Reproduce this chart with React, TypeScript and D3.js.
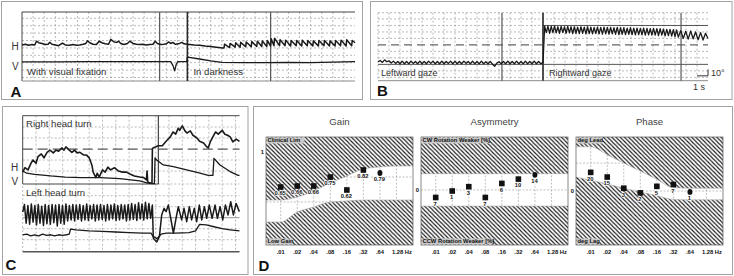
import React, { useLayoutEffect } from "react";
import * as d3 from "d3";

type P = [number, number];

// ================= Panel A : spontaneous nystagmus =================
const A_H_FIXATION: P[] = [
  [0, 4], [0.3, 5], [0.6, 3.5], [0.9, 4.5], [1.15, 4], [1.3, 9], [1.5, 7], [1.8, 6], [2.1, 4.5], [2.35, 5],
  [2.5, 7.5], [2.7, 5], [3.0, 4], [3.3, 3], [3.5, 5], [3.65, 6.5], [3.9, 4], [4.3, 3.5], [4.6, 4.5], [4.9, 3.5],
  [5.2, 4], [5.5, 5], [5.75, 6], [5.9, 9.5], [6.1, 7], [6.4, 5], [6.7, 4.5], [6.95, 9], [7.2, 7], [7.5, 5.5],
  [7.8, 5], [8.0, 11.5], [8.3, 8], [8.55, 7.5], [8.7, 9], [8.9, 6], [9.2, 4.5], [9.5, 6], [9.7, 9], [10, 6],
  [10.3, 5], [10.6, 4.5], [10.9, 5], [11.2, 4], [11.5, 4.5], [11.8, 5], [12.0, 9], [12.2, 6], [12.5, 4.5], [12.8, 5],
  [13.0, 5.5], [13.2, 8], [13.4, 6], [13.6, 7.5], [13.8, 5], [14.1, 5.5], [14.4, 7.5], [14.6, 5.5], [14.9, 5],
];
const A_H_DARK_ONSET: P[] = [[15.5, 4], [16, 3.5], [16.5, 2.5], [17, 2], [17.5, 1], [18.1, 0]];
// [time of fast phase, trough, peak]
const A_H_DARK_BEATS: [number, number, number][] = [
  [18.25, 0, 5], [18.75, 0.5, 6], [19.25, 1, 7], [19.7, 1, 7.5], [20.2, 1.5, 8], [20.7, 1.5, 8.5],
  [21.2, 2, 9], [21.65, 2, 9.5], [22.1, 2, 10], [22.45, 2.5, 12.5], [22.75, 3, 13], [23.25, 3, 11],
  [23.75, 3, 10.5], [24.25, 2.5, 10], [24.75, 3, 10], [25.25, 2.5, 10.5], [25.75, 3, 10], [26.25, 2.5, 9.5],
  [26.75, 2.5, 10], [27.25, 3, 10], [27.75, 2.5, 9.5], [28.25, 2.5, 10], [28.75, 3, 10.5], [29.25, 2.5, 11],
  [29.75, 3, 10],
];
const A_H_DARK_END: P = [30, 7];
const A_V: P[] = [
  [0, -19], [3, -19], [6, -18.5], [9, -18.5], [12, -18.5], [13.4, -18.5], [13.6, -24], [13.75, -31], [13.9, -22],
  [14.05, -18.5], [14.85, -18.5], [14.9, -12.5], [16, -15], [17, -17.5], [18, -19.5], [20, -20], [22, -20],
  [24, -19.5], [26, -19.8], [28, -19.2], [30, -18.5],
];
const A_SEGMENTS = [12.4, 14.9, 22.4];
const A_TEXT = ["With visual fixation", "In darkness"];

// ================= Panel B : gaze-evoked nystagmus =================
const B_LEFT_STEP = 0.2;
const B_LEFT = [
  -26, -24, -27, -23, -26, -24.5, -28, -25, -28.5, -25.5,
  -29, -25, -29, -25.5, -29, -25, -28.5, -25.5, -29, -25,
  -29, -25.5, -29, -25, -28.5, -25, -29, -25.5, -29, -25,
  -29, -25.5, -28.5, -25, -29, -25, -29, -25.5, -29, -25,
  -28.5, -25.5, -29, -25, -29, -25.5, -29, -25, -29, -26,
  -29, -25.5, -29.5, -33, -28, -26, -29, -25.5, -29, -25,
  -29, -25.5, -29, -25, -29, -25.5, -29, -25, -29, -25.5,
  -29, -25, -29, -25.5, -29, -27,
];
const B_RIGHT_START = 15;
const B_RIGHT_STEP = 0.15;
const B_RIGHT = [
  -28, 29, 19, 29, 18, 28.5, 19, 29, 18.5, 28,
  18, 28.5, 19, 28, 18, 28.5, 18.5, 28, 17.5, 28,
  18, 27.5, 17.5, 28, 18, 27.5, 17, 28, 17.5, 27.5,
  17, 27, 17.5, 27.5, 17, 27, 16.5, 27.5, 17, 27,
  16.5, 27, 17, 26.5, 16.5, 27, 16, 26.5, 16.5, 26.5,
  16, 26, 16.5, 26.5, 16, 26, 15.5, 26, 16, 25.5,
  15.5, 26, 15, 25.5, 15.5, 25, 15, 25.5, 15, 25,
  14.5, 25, 15, 24.5, 14, 24, 14.5, 24, 13.5, 23.5,
  13, 23, 12,
];
const B_END_START = 27.3;
const B_END_STEP = 0.225;
const B_END = [12, 22, 10, 21, 9, 21.5, 9.5, 20, 8, 19, 7.5, 18, 10];
const B_SEGMENTS = [11.27, 15, 27.55];
const B_TARGET = 30;
const B_TEXT = ["Leftward gaze", "Rightward gaze"];

// ================= Panel C : head-turn nystagmus =================
const C_UP_H: P[] = [
  [0, -21], [0.17, -17], [0.4, -19], [0.62, -13], [0.77, -10], [1, -13], [1.15, -7], [1.4, -4.5], [1.6, -8],
  [1.83, -3], [2.05, -1], [2.3, -3.5], [2.5, -1], [2.7, -2], [2.95, 1], [3.1, -1], [3.25, 2], [3.5, -1],
  [3.7, -3], [3.9, -1], [4.1, -3.5], [4.3, -3], [4.6, -5.5], [4.8, -5.5], [5, -8], [5.2, -14.5], [5.3, -21],
  [5.5, -26], [5.6, -22], [5.75, -25.5], [6, -19], [6.2, -21], [6.4, -16.5], [6.6, -19], [6.9, -17],
  [7.2, -20], [7.5, -21], [7.8, -21], [8.1, -23], [8.4, -24.5], [8.8, -25.5], [9.1, -26], [9.3, -28],
  [9.35, -20], [9.4, -30], [9.6, -31], [9.72, -31], [9.75, 0], [9.8, 1], [10.2, 3], [10.5, 3], [10.7, 6],
  [10.85, 8], [11.1, 11], [11.3, 15.5], [11.5, 13.5], [11.7, 19], [11.8, 17], [12, 21], [12.2, 16.5],
  [12.35, 14.5], [12.6, 16.5], [12.8, 12.5], [13.1, 10], [13.3, 7], [13.6, 5.5], [13.8, 2.5], [13.95, 1],
  [14.1, 6.5], [14.3, 11], [14.5, 15.5], [14.7, 13.5], [15, 17], [15.2, 13.5], [15.4, 12.5], [15.6, 11],
  [15.8, 6.5], [16.05, 9], [16.3, 7],
];
const C_UP_V: P[] = [
  [0, -20], [0.3, -22], [0.9, -23], [2.1, -24.5], [3.2, -25.5], [4.4, -26], [5.1, -26], [5.8, -26],
  [7.3, -27], [8.8, -29], [9.4, -31], [9.7, -31.5], [9.9, -31.5], [9.95, -8], [10.07, -10], [10.57, -14.5],
  [11.32, -16], [12.33, -19], [13.33, -22], [13.95, -24], [14.3, -24], [14.38, -8.5], [14.83, -14.5],
  [15.59, -20.5], [16.2, -24], [16.3, -24],
];
const C_LOW_H_STEP = 0.13;
const C_LOW_H_FAST = [
  5, 12, -5, 11, -6, 12.5, -4, 11, -6.5, 12,
  -5, 10.5, -7, 12, -5.5, 11, -6, 12, -4.5, 11.5,
  -7.5, 12, -5, 11, -6, 12.5, -3, 11, -2, 12,
  -3, 11.5, -1.5, 12, -3, 11, -2, 12.5, -2.5, 11,
  -1, 12, -3, 11.5, -2, 12, -1.5, 11, -3, 12,
  -2, 11.5, -1, 12.5, -2.5, 11, -2, 12, -1, 11.5,
  -3, 12, -2, 13, -1.5, 12, -2.5, 13.5, -1, 12.5,
  -2, 14, -1, 13, -0.5, 11.5,
];
const C_LOW_H_LATE: P[] = [
  [9.82, -18.7], [10.08, -22], [10.28, -17], [10.45, 2.5], [10.63, 8.5], [10.78, 5.5], [10.95, 11.5],
  [11.13, -0.5], [11.33, -14], [11.53, -0.5], [11.7, 10], [11.95, -2], [12.13, 8.5], [12.33, -3.6],
  [12.53, 10], [12.7, -2], [12.9, 8.5], [13.08, -3.6], [13.28, 11.5], [13.46, -2], [13.66, 10], [13.83, -0.5],
  [14.03, 11.5], [14.24, -0.5], [14.46, 11.5], [14.64, -0.5], [14.84, 10], [15.04, -2], [15.24, 11.5],
  [15.44, 2.5], [15.64, 14.5], [15.84, 2.5], [16.04, 13], [16.29, 5.5],
];
const C_LOW_V: P[] = [
  [0, -15.7], [0.3, -15], [0.6, -16.5], [0.9, -15.5], [1.2, -16.5], [1.5, -15], [1.8, -16], [2.1, -15.5],
  [2.4, -16.5], [2.7, -15.5], [3, -16], [3.3, -15.5], [3.5, -15], [3.6, -10.3], [4, -11], [5, -12], [6, -12.5],
  [7, -13], [8, -13.5], [9, -14], [9.65, -14], [9.8, -17], [10.1, -19], [10.4, -15], [10.8, -14], [11.5, -14],
  [12.5, -13.5], [13, -12], [13.3, -6], [13.8, -6.5], [14.3, -8], [15, -10], [15.6, -11], [16.3, -12],
];
const C_SPLIT = 10.2;
const C_TEXT = ["Right head turn", "Left head turn"];

// ================= Panel D : rotational chair =================
const FREQS = [0.01, 0.02, 0.04, 0.08, 0.16, 0.32, 0.64];
const FREQ_TICKS = [0.01, 0.02, 0.04, 0.08, 0.16, 0.32, 0.64, 1.28];
const FREQ_TICK_TEXT = [".01", ".02", ".04", ".08", ".16", ".32", ".64", "1.28 Hz"];
const BAND_FREQS = [0.0054, 0.01, 0.02, 0.04, 0.08, 0.16, 0.32, 0.64, 1.28, 2.56];

const GAIN = [0.65, 0.66, 0.66, 0.75, 0.62, 0.82, 0.79];
const GAIN_TEXT = ["0.65", "0.66", "0.66", "0.75", "0.62", "0.82", "0.79"];
const GAIN_NORMAL_HI = [0.52, 0.52, 0.55, 0.61, 0.69, 0.76, 0.83, 0.85, 0.86, 0.86];
const GAIN_NORMAL_LO = [0.3, 0.3, 0.4, 0.45, 0.5, 0.51, 0.52, 0.52, 0.52, 0.52];

const ASYM = [-7, -1, 3, -7, 6, 10, 14];
const ASYM_TEXT = ["7", "1", "3", "7", "6", "10", "14"];
const ASYM_NORMAL_HI = [15, 15, 15, 15, 15, 15, 15, 15, 15, 15];
const ASYM_NORMAL_LO = [-15, -15, -15, -15, -15, -15, -15, -15, -15, -15];

const PHASE = [20, 15, 3, -2, 5, 7, -1];
const PHASE_TEXT = ["20", "15", "3", "2", "5", "7", "1"];
const PHASE_NORMAL_HI = [47.5, 47.5, 39, 30, 21.5, 12.5, 3.5, 3, 3, 3];
const PHASE_NORMAL_LO = [15, 11.5, 7.5, 3, -1, -5, -9, -9.5, -9.5, -9.5];

// ================= styling =================
const FONT = "'Liberation Sans', Arial, sans-serif";
const FRAME = "#a3a3a3";
const TRACE = "#1a1a1a";
const GRID = { stroke: "#8c8c8c", strokeWidth: 0.6, strokeDasharray: "2 2" } as const;

function PanelA() {
  const x = d3.scaleLinear().domain([0, 30]).range([22, 355]);
  const y = d3.scaleLinear().domain([-44.7, 48.5]).range([81, 12]);
  const line = d3.line<P>().x((d) => x(d[0])).y((d) => y(d[1]));
  const beats: P[] = A_H_DARK_BEATS.flatMap(([t, lo, hi]) => [[t - 0.05, lo], [t, hi]] as P[]);
  const h: P[] = [...A_H_FIXATION, ...A_H_DARK_ONSET, ...beats, A_H_DARK_END];
  const [x0, x1] = x.range();
  const [yb, yt] = y.range();
  return (
    <g>
      <rect x={1.5} y={1.5} width={361} height={98} fill="none" stroke={FRAME} />
      {d3.range(1, 30).map((t) => (
        <line key={"v" + t} x1={x(t)} x2={x(t)} y1={yt} y2={yb} {...GRID} />
      ))}
      {d3.range(-40, 41, 10).map((v) => (
        <line key={"h" + v} x1={x0} x2={x1} y1={y(v)} y2={y(v)} {...GRID} />
      ))}
      <line x1={x0} x2={x1} y1={yt} y2={yt} stroke="#444" strokeWidth={1} />
      <line x1={x0} x2={x0} y1={yt} y2={yb} stroke="#444" strokeWidth={1} />
      <line x1={x0} x2={x1} y1={yb} y2={yb} stroke="#8a8a8a" strokeWidth={1} />
      {A_SEGMENTS.map((t, i) => (
        <line key={"s" + i} x1={x(t)} x2={x(t)} y1={yt} y2={yb} stroke={i === 1 ? "#2a2a2a" : "#555"} strokeWidth={i === 1 ? 1.6 : 1.2} />
      ))}
      <path d={line(h) ?? ""} fill="none" stroke={TRACE} strokeWidth={1.5} strokeLinejoin="round" />
      <path d={line(A_V) ?? ""} fill="none" stroke={TRACE} strokeWidth={1.3} strokeLinejoin="round" />
      <text x={11.5} y={50} fontSize={10} fill="#333">H</text>
      <text x={12} y={70} fontSize={10} fill="#333">V</text>
      <text x={27} y={75} fontSize={9.6} fill="#333">{A_TEXT[0]}</text>
      <text x={x(A_SEGMENTS[1]) + 6} y={75} fontSize={9.6} fill="#333">{A_TEXT[1]}</text>
      <text x={10.5} y={97} fontSize={15} fontWeight="bold" fill="#111">A</text>
    </g>
  );
}

function PanelB() {
  const x = d3.scaleLinear().domain([0, 30]).range([378, 708]);
  const y = d3.scaleLinear().domain([-55.2, 49.7]).range([80.7, 12.7]);
  const line = d3.line<P>().x((d) => x(d[0])).y((d) => y(d[1]));
  const trace: P[] = [
    ...B_LEFT.map((v, i) => [i * B_LEFT_STEP, v] as P),
    ...B_RIGHT.map((v, i) => [B_RIGHT_START + i * B_RIGHT_STEP, v] as P),
    ...B_END.slice(1).map((v, i) => [B_END_START + (i + 1) * B_END_STEP, v] as P),
  ];
  const [x0, x1] = x.range();
  const [yb, yt] = y.range();
  return (
    <g>
      <rect x={370.5} y={1.5} width={361.5} height={98} fill="none" stroke={FRAME} />
      {d3.range(0, 30).map((t) => (
        <line key={"v" + t} x1={x(t)} x2={x(t)} y1={yt} y2={yb} {...GRID} />
      ))}
      {[40, 30, 20, 10, -10, -20, -40, -50].map((v) => (
        <line key={"h" + v} x1={x0} x2={x1} y1={y(v)} y2={y(v)} {...GRID} />
      ))}
      <line x1={x0} x2={x1} y1={yt} y2={yt} {...GRID} />
      <line x1={x0} x2={x1} y1={yb} y2={yb} stroke="#8a8a8a" strokeWidth={1} />
      <line x1={x0} x2={x1} y1={y(0)} y2={y(0)} stroke="#666" strokeWidth={1.3} strokeDasharray="8 5" />
      <line x1={x0} x2={x1} y1={y(-B_TARGET)} y2={y(-B_TARGET)} stroke="#555" strokeWidth={1} />
      <line x1={x(B_SEGMENTS[1])} x2={x1} y1={y(B_TARGET)} y2={y(B_TARGET)} stroke="#555" strokeWidth={1} />
      {B_SEGMENTS.map((t, i) => (
        <line key={"s" + i} x1={x(t)} x2={x(t)} y1={yt} y2={yb} stroke={i === 1 ? "#2a2a2a" : "#555"} strokeWidth={i === 1 ? 1.6 : 1.2} />
      ))}
      <path d={line(trace) ?? ""} fill="none" stroke={TRACE} strokeWidth={1.3} strokeLinejoin="round" />
      <text x={381} y={75.5} fontSize={9} fill="#333">{B_TEXT[0]}</text>
      <text x={x(B_SEGMENTS[1]) + 6} y={75.5} fontSize={9} fill="#333">{B_TEXT[1]}</text>
      <path
        d={`M${x(29)},${y(-47.7)}H${x(30)}V${y(-37.7)}`}
        fill="none"
        stroke="#333"
        strokeWidth={1}
      />
      <text x={711} y={75.5} fontSize={9} fill="#333">10°</text>
      <text x={693} y={90} fontSize={9} fill="#333">1 s</text>
      <text x={377} y={96} fontSize={15} fontWeight="bold" fill="#111">B</text>
    </g>
  );
}

function PanelC() {
  const x = d3.scaleLinear().domain([0, 16.3]).range([22.7, 239.5]);
  const yUp = d3.scaleLinear().domain([-31.8, 30.3]).range([184, 115.7]);
  const yLow = d3.scaleLinear().domain([-30.9, 28.8]).range([251.7, 186]);
  const lineUp = d3.line<P>().x((d) => x(d[0])).y((d) => yUp(d[1]));
  const lineLow = d3.line<P>().x((d) => x(d[0])).y((d) => yLow(d[1]));
  const lowH: P[] = [...C_LOW_H_FAST.map((v, i) => [i * C_LOW_H_STEP, v] as P), ...C_LOW_H_LATE];
  const [x0, x1] = x.range();
  const top = yUp.range()[1];
  const upBottom = yUp.range()[0];
  const lowBottom = yLow.range()[0];
  return (
    <g>
      <rect x={2.5} y={106.5} width={245.5} height={168} fill="none" stroke={FRAME} />
      {d3.range(1, 17).map((t) => (
        <line key={"v" + t} x1={x(t)} x2={x(t)} y1={top} y2={lowBottom} {...GRID} />
      ))}
      {[20, 10, -10, -20].map((v) => (
        <line key={"hu" + v} x1={x0} x2={x1} y1={yUp(v)} y2={yUp(v)} {...GRID} />
      ))}
      {[20, 10, -10, -20].map((v) => (
        <line key={"hl" + v} x1={x0} x2={x1} y1={yLow(v)} y2={yLow(v)} {...GRID} />
      ))}
      <line x1={x0} x2={x0} y1={yLow.range()[1]} y2={lowBottom} {...GRID} />
      <line x1={x(C_SPLIT)} x2={x1} y1={upBottom} y2={upBottom} {...GRID} />
      <line x1={x0} x2={x1} y1={top} y2={top} stroke="#444" strokeWidth={1} />
      <line x1={x0} x2={x0} y1={top} y2={upBottom} stroke="#444" strokeWidth={1} />
      <line x1={x0} x2={x(C_SPLIT)} y1={upBottom} y2={upBottom} stroke="#444" strokeWidth={1} />
      <line x1={x(C_SPLIT)} x2={x(C_SPLIT)} y1={top} y2={upBottom} stroke="#444" strokeWidth={1.2} />
      <line x1={x0} x2={x1} y1={yUp(0)} y2={yUp(0)} stroke="#555" strokeWidth={1.3} strokeDasharray="10 5" />
      <line x1={x0} x2={x1} y1={yLow(0)} y2={yLow(0)} stroke="#888" strokeWidth={0.9} />
      <line x1={x0} x2={x1} y1={lowBottom} y2={lowBottom} stroke="#555" strokeWidth={1.6} />
      <path d={lineUp(C_UP_V) ?? ""} fill="none" stroke={TRACE} strokeWidth={1.3} strokeLinejoin="round" />
      <path d={lineUp(C_UP_H) ?? ""} fill="none" stroke={TRACE} strokeWidth={1.6} strokeLinejoin="round" />
      <path d={lineLow(C_LOW_V) ?? ""} fill="none" stroke={TRACE} strokeWidth={1.3} strokeLinejoin="round" />
      <path d={lineLow(lowH) ?? ""} fill="none" stroke={TRACE} strokeWidth={1.5} strokeLinejoin="round" />
      <text x={26} y={126.5} fontSize={9.6} fill="#333">{C_TEXT[0]}</text>
      <text x={26} y={196} fontSize={9.6} fill="#333">{C_TEXT[1]}</text>
      <text x={11} y={171} fontSize={10} fill="#333">H</text>
      <text x={11.5} y={185} fontSize={10} fill="#333">V</text>
      <text x={5.5} y={270} fontSize={15} fontWeight="bold" fill="#111">C</text>
    </g>
  );
}

type PlotProps = {
  x0: number;
  title: string;
  domain: [number, number];
  grid: number[];
  values: number[];
  texts: string[];
  hi: number[];
  lo: number[];
  yTick: number;
  topLabel: string;
  bottomLabel: string;
};

function RotPlot({ x0, title, domain, grid, values, texts, hi, lo, yTick, topLabel, bottomLabel }: PlotProps) {
  const top = 137;
  const bottom = 245;
  const width = 147;
  const x = d3.scaleLog().base(2).domain([0.0054, 2.56]).range([x0, x0 + width]);
  const y = d3.scaleLinear().domain(domain).range([bottom, top]);
  const upper = d3
    .area<number>()
    .x((_, i) => x(BAND_FREQS[i]))
    .y0(top)
    .y1((d) => y(d))
    .curve(d3.curveMonotoneX);
  const lower = d3
    .area<number>()
    .x((_, i) => x(BAND_FREQS[i]))
    .y0((d) => y(d))
    .y1(bottom)
    .curve(d3.curveMonotoneX);
  const edge = d3
    .line<number>()
    .x((_, i) => x(BAND_FREQS[i]))
    .y((d) => y(d))
    .curve(d3.curveMonotoneX);
  const lab = { fontSize: 5.8, fontWeight: "bold" as const, fill: "#111" };
  return (
    <g>
      <text x={x0 + width / 2} y={125} fontSize={9.6} fill="#444" textAnchor="middle">
        {title}
      </text>
      <rect x={x0} y={top} width={width} height={bottom - top} fill="#fff" />
      {FREQ_TICKS.map((f) => (
        <line key={"gv" + f} x1={x(f)} x2={x(f)} y1={top} y2={bottom} stroke="#999" strokeWidth={0.6} strokeDasharray="2 1.5" />
      ))}
      {grid.map((g) => (
        <line key={"gh" + g} x1={x0} x2={x0 + width} y1={y(g)} y2={y(g)} stroke="#999" strokeWidth={0.6} strokeDasharray="2 1.5" />
      ))}
      <path d={upper(hi) ?? ""} fill="url(#hatch)" />
      <path d={lower(lo) ?? ""} fill="url(#hatch)" />
      <path d={edge(hi) ?? ""} fill="none" stroke="#aaa" strokeWidth={0.6} />
      <path d={edge(lo) ?? ""} fill="none" stroke="#aaa" strokeWidth={0.6} />
      <rect x={x0} y={top} width={width} height={bottom - top} fill="none" stroke="#555" strokeWidth={0.7} />
      <rect x={x0 + 0.5} y={top + 0.5} width={topLabel.length * 3 + 2} height={6} fill="#c9c9c9" />
      <text x={x0 + 1.5} y={top + 5.2} {...lab}>
        {topLabel}
      </text>
      <rect x={x0 + 0.5} y={bottom - 6.5} width={bottomLabel.length * 3 + 2} height={6} fill="#c9c9c9" />
      <text x={x0 + 1.5} y={bottom - 1.8} {...lab}>
        {bottomLabel}
      </text>
      <text x={x0 - 2} y={y(yTick) + 2} textAnchor="end" {...lab}>
        {yTick}
      </text>
      {FREQS.map((f, i) => {
        const cx = x(f);
        const cy = y(values[i]);
        return (
          <g key={"m" + f}>
            {i === FREQS.length - 1 ? (
              <ellipse cx={cx} cy={cy} rx={2.5} ry={2.9} fill="#111" />
            ) : (
              <rect x={cx - 2.8} y={cy - 2.8} width={5.6} height={5.6} fill="#111" />
            )}
            <text x={cx - 0.5} y={cy + 8.3} textAnchor="middle" stroke="#fff" strokeWidth={1.4} paintOrder="stroke" {...lab}>
              {texts[i]}
            </text>
          </g>
        );
      })}
      {FREQ_TICKS.map((f, i) => (
        <text key={"xt" + f} x={i === FREQ_TICKS.length - 1 ? x(f) - 4.5 : x(f)} y={253.5} textAnchor={i === FREQ_TICKS.length - 1 ? "start" : "middle"} {...lab}>
          {FREQ_TICK_TEXT[i]}
        </text>
      ))}
    </g>
  );
}

function PanelD() {
  return (
    <g>
      <rect x={253.5} y={106.5} width={479} height={168} fill="none" stroke={FRAME} />
      <RotPlot
        x0={266}
        title="Gain"
        domain={[0.07, 1.15]}
        grid={[0.25, 0.5, 0.75, 1]}
        values={GAIN}
        texts={GAIN_TEXT}
        hi={GAIN_NORMAL_HI}
        lo={GAIN_NORMAL_LO}
        yTick={1}
        topLabel="Clinical Lim"
        bottomLabel="Low Gain"
      />
      <RotPlot
        x0={421}
        title="Asymmetry"
        domain={[-51, 49]}
        grid={[-25, 0, 25]}
        values={ASYM}
        texts={ASYM_TEXT}
        hi={ASYM_NORMAL_HI}
        lo={ASYM_NORMAL_LO}
        yTick={0}
        topLabel="CW Rotation Weaker [%]"
        bottomLabel="CCW Rotation Weaker [%]"
      />
      <RotPlot
        x0={576}
        title="Phase"
        domain={[-58, 58]}
        grid={[-30, 0, 30]}
        values={PHASE}
        texts={PHASE_TEXT}
        hi={PHASE_NORMAL_HI}
        lo={PHASE_NORMAL_LO}
        yTick={0}
        topLabel="deg Lead"
        bottomLabel="deg Lag"
      />
      <text x={258.5} y={271} fontSize={15} fontWeight="bold" fill="#111">D</text>
    </g>
  );
}

export default function App() {
  useLayoutEffect(() => {
    document.body.style.margin = "0";
  }, []);
  return (
    <svg width={734} height={276} style={{ display: "block" }} fontFamily={FONT}>
      <defs>
        <pattern id="hatch" width={4.2} height={4.2} patternUnits="userSpaceOnUse">
          <rect width={4.2} height={4.2} fill="#fff" />
          <path d="M-1,-1 L5.2,5.2 M-1,3.2 L1,5.2 M3.2,-1 L5.2,1" stroke="#151515" strokeWidth={1.1} />
        </pattern>
      </defs>
      <rect width={734} height={276} fill="#fff" />
      <PanelA />
      <PanelB />
      <PanelC />
      <PanelD />
    </svg>
  );
}
